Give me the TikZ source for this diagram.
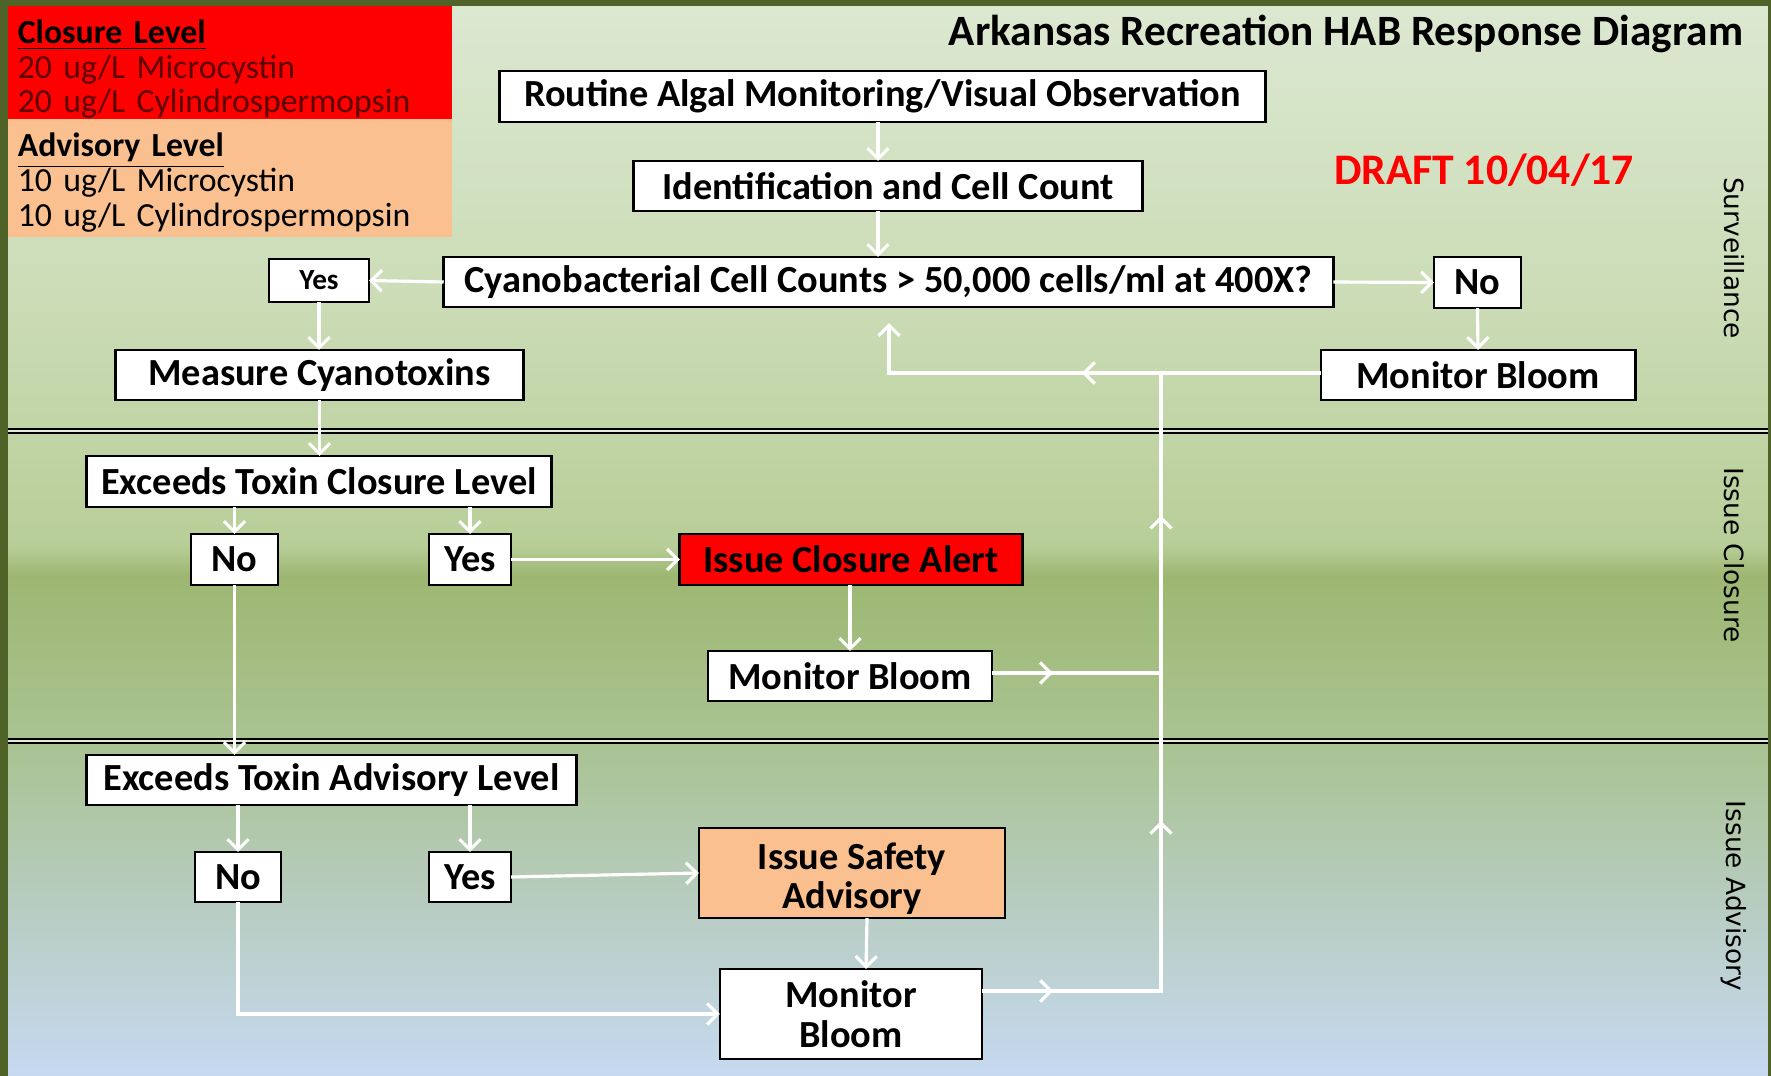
\documentclass[tikz,border=0pt]{standalone}
\usepackage{fontspec}
\setmainfont{Carlito}
\newfontfamily\sidefont{DejaVu Sans}
\usetikzlibrary{arrows.meta,decorations.markings}

\definecolor{framegreen}{HTML}{4F6228}
\definecolor{alertred}{HTML}{FF0000}
\definecolor{peach}{HTML}{FAC090}
\definecolor{darkred}{HTML}{5C0000}
\definecolor{gapcol}{HTML}{E2EBD9}
\definecolor{bgA}{HTML}{DCE8D1}
\definecolor{bgB}{HTML}{CBDCB6}
\definecolor{bgC}{HTML}{B8CE98}
\definecolor{bgD}{HTML}{9DB772}
\definecolor{bgE}{HTML}{A3BD80}
\definecolor{bgF}{HTML}{ABC496}
\definecolor{bgG}{HTML}{B7CCBF}
\definecolor{bgH}{HTML}{C6D9F1}

\pgfdeclareverticalshading{habbg}{100bp}{color(0bp)=(bgH); color(25bp)=(bgH);
  color(33.18bp)=(bgG); color(39.68bp)=(bgF); color(44.8bp)=(bgE);
  color(48.28bp)=(bgD); color(49.67bp)=(bgC); color(61.06bp)=(bgB);
  color(75bp)=(bgA); color(100bp)=(bgA)}

\newcommand{\levelhead}[2]{\rule{0pt}{#1}\smash{\underline{\textbf{#2}}}}

\begin{document}
\begin{tikzpicture}[x=0.01cm, y=-0.01cm]
\tikzset{ >={Straight Barb[length=3pt,width=6pt]}, outer sep=0pt,
  box/.style={draw, line width=0.8pt, fill=white, inner sep=0pt, align=center,
    font=\bfseries\fontsize{10.9}{11.2}\selectfont},
  flow/.style={white, line width=0.9pt},
  midarrow/.style={postaction={decorate, decoration={markings,
    mark=at position #1 with {\arrow{>}}}}},
  divider/.style={line width=0.55pt, double=gapcol, double distance=0.85pt},
  levelbox/.style={inner xsep=0.1cm, inner ysep=0pt, text width=4.24cm,
    minimum height=#1, align=left, font=\fontsize{9.6}{9.9}\selectfont},
  lane/.style={rotate=-90, font=\sidefont\fontsize{7.5}{9}\selectfont},
}

\useasboundingbox (0,0) rectangle (1771,1076);

%%% Fundo
\shade[shading=habbg] (0,0) rectangle (1771,1076);
\fill[framegreen] (0,0) rectangle (8,1076);
\fill[framegreen] (0,0) rectangle (1771,6);
\fill[framegreen] (1768,0) rectangle (1771,1076);

% faixas
\draw[divider] (8,431) -- (1768,431);
\draw[divider] (8,741) -- (1768,741);

% legenda dos niveis
\node[levelbox=1.13cm, fill=alertred, minimum width=4.44cm] (closure) at (230,62.5)
  {\levelhead{10.5pt}{Closure Level}\\ \textcolor{darkred}{20 ug/L Microcystin}\\
   \textcolor{darkred}{20 ug/L Cylindrospermopsin}};
\node[levelbox=1.18cm, fill=peach, minimum width=4.44cm] (advisory) at (230,178)
  {\levelhead{9.2pt}{Advisory Level}\\ 10 ug/L Microcystin\\ 10 ug/L Cylindrospermopsin};

% titulo
\node[font=\bfseries\fontsize{12.3}{14}\selectfont] (title) at (1346,34)
  {Arkansas Recreation HAB Response Diagram};
\node[font=\bfseries\fontsize{12.4}{14}\selectfont, text=alertred] (draft) at (1484,170)
  {DRAFT 10/04/17};

% nomes das faixas
\node[lane] (lsurv) at (1734,258) {Surveillance};
\node[lane] (lclose) at (1734,555) {Issue Closure};
\node[lane] (ladv) at (1734,896) {Issue Advisory};

%%% Blocos

% vigilancia
\node[box, minimum width=7.65cm, minimum height=0.51cm] (route) at (882.5,96.5)
  {Routine Algal Monitoring/Visual Observation};
\node[box, minimum width=5.08cm, minimum height=0.50cm] (ident) at (888,186)
  {Identification and Cell Count};
\node[box, minimum width=8.89cm, minimum height=0.50cm] (count) at (888.5,282)
  {Cyanobacterial Cell Counts > 50,000 cells/ml at 400X?};
\node[box, minimum width=1.00cm, minimum height=0.43cm, font=\bfseries\fontsize{8.3}{10}\selectfont]
  (yes0) at (319,280.5) {Yes};
\node[box, minimum width=0.87cm, minimum height=0.51cm] (no0) at (1477.5,282.5) {No};
\node[box, minimum width=3.14cm, minimum height=0.50cm] (mon0) at (1478,375) {Monitor Bloom};
\node[box, minimum width=4.07cm, minimum height=0.50cm] (measure) at (319.5,375)
  {Measure Cyanotoxins};

% interdicao
\node[box, minimum width=4.64cm, minimum height=0.51cm] (exclose) at (319,481.5)
  {Exceeds Toxin Closure Level};
\node[box, minimum width=0.87cm, minimum height=0.51cm] (noC) at (234.5,559.5) {No};
\node[box, minimum width=0.82cm, minimum height=0.51cm] (yesC) at (470,559.5) {Yes};
\node[box, fill=alertred, minimum width=3.42cm, minimum height=0.51cm] (alert) at (851,559.5)
  {Issue Closure Alert};
\node[box, minimum width=2.84cm, minimum height=0.50cm] (mon1) at (850,676) {Monitor Bloom};

% aviso
\node[box, minimum width=4.89cm, minimum height=0.50cm] (exadv) at (331.5,780)
  {Exceeds Toxin Advisory Level};
\node[box, minimum width=0.86cm, minimum height=0.50cm] (noA) at (238,877) {No};
\node[box, minimum width=0.82cm, minimum height=0.50cm] (yesA) at (470,877) {Yes};
\node[box, fill=peach, minimum width=3.06cm, minimum height=0.90cm] (safety) at (852,873)
  {\rule{0pt}{10.8pt}Issue Safety\\ Advisory};
\node[box, minimum width=2.62cm, minimum height=0.90cm] (mon2) at (851,1014)
  {Monitor\\ Bloom};

%%% Linhas

\coordinate (ax) at (878,0);
\coordinate (ret) at (889,373);
\coordinate (jT) at (1161,373);
\coordinate (jM) at (1161,673);
\coordinate (jB) at (1161,991);

\draw[flow, ->] (route.south -| ax) -- (ident.north -| ax);
\draw[flow, ->] (ident.south -| ax) -- (count.north -| ax);
\draw[flow, ->] (count.west) -- (yes0.east);
\draw[flow, ->] (count.east) -- (no0.west);
\draw[flow, ->] (no0.south) -- (mon0.north);
\draw[flow, ->] (yes0.south) -- (measure.north -| yes0.south);
\draw[flow, ->] (measure.south) -- (exclose.north -| measure.south);

% volta para a contagem
\draw[flow, ->, shorten >=0.16cm, midarrow=0.48] (mon0.west |- ret) -- (ret) -- (ret |- count.south);

% interdicao
\draw[flow, ->] (exclose.south -| noC.north) -- (noC.north);
\draw[flow, ->] (exclose.south -| yesC.north) -- (yesC.north);
\draw[flow, ->] (yesC.east) -- (alert.west);
\draw[flow, ->] (alert.south -| mon1.north) -- (mon1.north);
\draw[flow, midarrow=0.36] (mon1.east |- jM) -- (jM);

% aviso
\draw[flow, ->] (noC.south) -- (exadv.north -| noC.south);
\draw[flow, ->] (exadv.south -| noA.north) -- (noA.north);
\draw[flow, ->] (exadv.south -| yesA.north) -- (yesA.north);
\draw[flow, ->] (yesA.east) -- (safety.west);
\draw[flow, ->] ([xshift=0.15cm]safety.south) -- ([xshift=0.15cm]mon2.north);
\draw[flow, ->] (noA.south) |- (mon2.west);

% subida ate a vigilancia
\draw[flow, midarrow=0.089, midarrow=0.438, midarrow=0.821] (mon2.east |- jB) -- (jB) -- (jT);

\end{tikzpicture}
\end{document}
